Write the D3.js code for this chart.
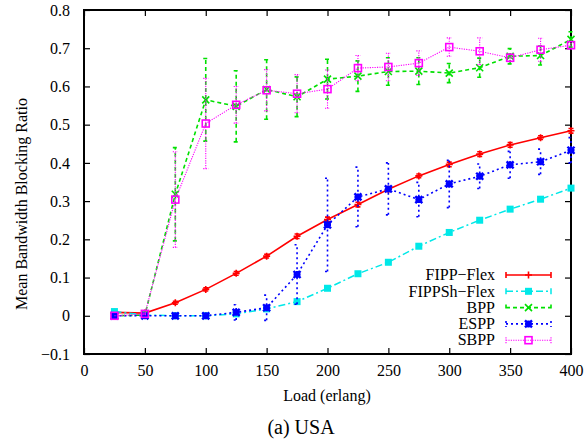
<!DOCTYPE html>
<html>
<head>
<meta charset="utf-8">
<script src="https://cdn.jsdelivr.net/npm/d3@7"></script>
<style>
  body { margin: 0; background: #fff; }
</style>
</head>
<body>
<div id="chart"></div>
<script>
// load values (erlang)
const loads = [25, 50, 75, 100, 125, 150, 175, 200, 225, 250, 275, 300, 325, 350, 375, 400];

const fippFlex    = [0.009, 0.007, 0.034, 0.069, 0.111, 0.156, 0.208, 0.252, 0.291, 0.331, 0.366, 0.396, 0.423, 0.447, 0.466, 0.484];
const fippFlexErr = [0.003, 0.003, 0.004, 0.004, 0.005, 0.005, 0.006, 0.006, 0.006, 0.006, 0.005, 0.006, 0.006, 0.006, 0.005, 0.006];

const fippShFlex    = [0.011, 0.002, 0.0, 0.0, 0.005, 0.018, 0.037, 0.072, 0.110, 0.140, 0.182, 0.218, 0.250, 0.279, 0.305, 0.334];
const fippShFlexErr = [0.002, 0.001, 0.0, 0.0, 0.002, 0.002, 0.002, 0.002, 0.002, 0.002, 0.002, 0.002, 0.002, 0.002, 0.002, 0.002];

const bpp    = [0.0, 0.002, 0.318, 0.565, 0.548, 0.592, 0.573, 0.619, 0.627, 0.639, 0.640, 0.635, 0.649, 0.679, 0.681, 0.723];
const bppErr = [0.0, 0.002, 0.122, 0.108, 0.093, 0.078, 0.052, 0.052, 0.040, 0.036, 0.035, 0.025, 0.025, 0.020, 0.025, 0.020];

const espp    = [0.0, 0.0, 0.0, 0.0, 0.009, 0.021, 0.108, 0.238, 0.311, 0.332, 0.304, 0.345, 0.365, 0.395, 0.403, 0.433];
const esppErr = [0.0, 0.0, 0.0, 0.0, 0.020, 0.033, 0.078, 0.122, 0.078, 0.068, 0.045, 0.062, 0.032, 0.035, 0.033, 0.033];

const sbpp    = [0.0, 0.005, 0.304, 0.503, 0.552, 0.590, 0.581, 0.593, 0.648, 0.651, 0.661, 0.703, 0.692, 0.675, 0.696, 0.708];
const sbppErr = [0.0, 0.002, 0.125, 0.118, 0.048, 0.054, 0.050, 0.050, 0.033, 0.036, 0.032, 0.024, 0.035, 0.010, 0.030, 0.010];

const xTicks = [0, 50, 100, 150, 200, 250, 300, 350, 400];
const yTicks = [-0.1, 0, 0.1, 0.2, 0.3, 0.4, 0.5, 0.6, 0.7, 0.8];

const series = [
  {name: "FIPP\u2212Flex",   values: fippFlex,   err: fippFlexErr,   color: "#ff0000", dash: null,      width: 1.6, mark: "plus"},
  {name: "FIPPSh\u2212Flex", values: fippShFlex, err: fippShFlexErr, color: "#00e8e8", dash: "7,3,2,3", width: 1.5, mark: "fsquare"},
  {name: "BPP",              values: bpp,        err: bppErr,        color: "#00e000", dash: "4,3",     width: 1.6, mark: "cross"},
  {name: "ESPP",             values: espp,       err: esppErr,       color: "#0000ff", dash: "2,3",     width: 1.6, mark: "star"},
  {name: "SBPP",             values: sbpp,       err: sbppErr,       color: "#ff00ff", dash: "1.2,1.2", width: 1.1, mark: "osquare"}
];

const width = 586, height = 445;
const plotL = 84, plotR = 571, plotT = 10, plotB = 354;
const serif = "'Liberation Serif', 'DejaVu Serif', 'Times New Roman', serif";

const svg = d3.select("#chart").append("svg")
  .attr("width", width).attr("height", height)
  .attr("font-family", serif);

const x = d3.scaleLinear().domain([0, 400]).range([plotL, plotR]);
const y = d3.scaleLinear().domain([-0.1, 0.8]).range([plotB, plotT]);

// axes, ticks pointing inward, mirrored on top/right
const fmtY = d => d === 0 ? "0" : d3.format(".1f")(d).replace("-", "\u2212");

function styleAxis(g) {
  g.attr("font-family", serif).attr("font-size", 16);
  g.select(".domain").remove();
  g.selectAll("line").attr("stroke", "#000").attr("stroke-width", 1.2);
  g.selectAll("text").attr("fill", "#000");
}

svg.append("g").attr("transform", `translate(0,${plotB})`)
  .call(d3.axisBottom(x).tickValues(xTicks).tickSize(-6).tickPadding(11).tickFormat(d3.format("d")))
  .call(styleAxis);
svg.append("g").attr("transform", `translate(0,${plotT})`)
  .call(d3.axisTop(x).tickValues(xTicks).tickSize(-6).tickFormat(""))
  .call(styleAxis);
svg.append("g").attr("transform", `translate(${plotL},0)`)
  .call(d3.axisLeft(y).tickValues(yTicks).tickSize(-6).tickPadding(14).tickFormat(fmtY))
  .call(styleAxis);
svg.append("g").attr("transform", `translate(${plotR},0)`)
  .call(d3.axisRight(y).tickValues(yTicks).tickSize(-6).tickFormat(""))
  .call(styleAxis);

svg.append("rect")
  .attr("x", plotL).attr("y", plotT)
  .attr("width", plotR - plotL).attr("height", plotB - plotT)
  .attr("fill", "none").attr("stroke", "#000").attr("stroke-width", 2);

// labels
svg.append("text")
  .attr("x", 327).attr("y", 401)
  .attr("text-anchor", "middle").attr("font-size", 16)
  .text("Load (erlang)");

svg.append("text")
  .attr("transform", "translate(27,204) rotate(-90)")
  .attr("text-anchor", "middle").attr("font-size", 16)
  .text("Mean Bandwidth Blocking Ratio");

svg.append("text")
  .attr("x", 301).attr("y", 434)
  .attr("text-anchor", "middle").attr("font-size", 20)
  .text("(a) USA");

function drawMark(g, type, cx, cy, color) {
  const s = 3.5;
  if (type === "plus") {
    g.append("path").attr("d", `M${cx - s},${cy}H${cx + s}M${cx},${cy - s}V${cy + s}`)
      .attr("stroke", color).attr("stroke-width", 1.6);
  } else if (type === "fsquare") {
    g.append("rect").attr("x", cx - s).attr("y", cy - s).attr("width", 2 * s).attr("height", 2 * s)
      .attr("fill", color);
  } else if (type === "cross") {
    g.append("path").attr("d", `M${cx - s},${cy - s}L${cx + s},${cy + s}M${cx - s},${cy + s}L${cx + s},${cy - s}`)
      .attr("stroke", color).attr("stroke-width", 1.6);
  } else if (type === "star") {
    g.append("path").attr("d", `M${cx - s},${cy - s}L${cx + s},${cy + s}M${cx - s},${cy + s}L${cx + s},${cy - s}M${cx - s},${cy}H${cx + s}M${cx},${cy - s}V${cy + s}`)
      .attr("stroke", color).attr("stroke-width", 2.4);
  } else if (type === "osquare") {
    g.append("rect").attr("x", cx - s).attr("y", cy - s).attr("width", 2 * s).attr("height", 2 * s)
      .attr("fill", "none").attr("stroke", color).attr("stroke-width", 1.6);
  }
}

const line = d3.line().x(d => x(d[0])).y(d => y(d[1]));
const cap = 2.5;

series.forEach(s => {
  const g = svg.append("g");
  const pts = loads.map((l, i) => [l, s.values[i], s.err[i]]);

  g.append("path")
    .attr("d", line(pts))
    .attr("fill", "none")
    .attr("stroke", s.color)
    .attr("stroke-width", s.width)
    .attr("stroke-dasharray", s.dash);

  // error bars
  pts.forEach(p => {
    if (p[2] <= 0) return;
    const px = x(p[0]), y0 = y(p[1] - p[2]), y1 = y(p[1] + p[2]);
    g.append("path")
      .attr("d", `M${px},${y0}V${y1}M${px - cap},${y0}H${px + cap}M${px - cap},${y1}H${px + cap}`)
      .attr("fill", "none")
      .attr("stroke", s.color)
      .attr("stroke-width", s.width)
      .attr("stroke-dasharray", s.dash);
  });

  pts.forEach(p => drawMark(g, s.mark, x(p[0]), y(p[1]), s.color));
});

// legend
const legX = 495, lineX0 = 506, lineX1 = 551, legY0 = 275, legStep = 16.3;
series.forEach((s, i) => {
  const ly = legY0 + i * legStep;
  const g = svg.append("g");
  g.append("text")
    .attr("x", legX).attr("y", ly).attr("dy", "0.33em")
    .attr("text-anchor", "end").attr("font-size", 16)
    .text(s.name);
  g.append("path")
    .attr("d", `M${lineX0},${ly}H${lineX1}M${lineX0},${ly - 3}V${ly + 3}M${lineX1},${ly - 3}V${ly + 3}`)
    .attr("fill", "none")
    .attr("stroke", s.color)
    .attr("stroke-width", s.width)
    .attr("stroke-dasharray", s.dash);
  drawMark(g, s.mark, (lineX0 + lineX1) / 2, ly, s.color);
});
</script>
</body>
</html>
